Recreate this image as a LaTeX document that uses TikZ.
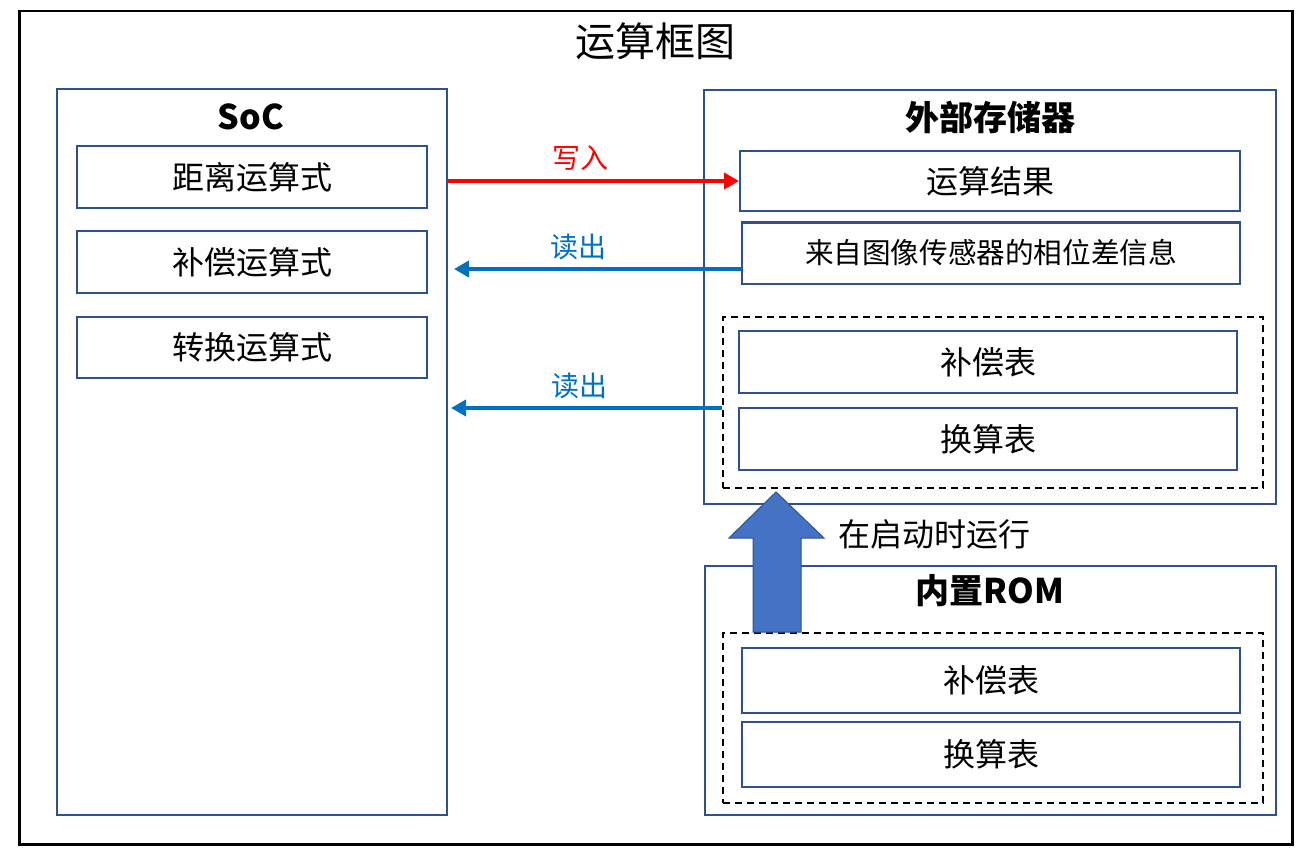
\documentclass[tikz,border=0pt]{standalone}
\usepackage{fontspec}
\setmainfont{Noto Sans CJK SC}
\usetikzlibrary{arrows.meta,calc}
\definecolor{bbord}{HTML}{2F528F}
\definecolor{barrow}{HTML}{0070C0}
\definecolor{bfill}{HTML}{4472C4}
\tikzset{
  box/.style={draw=bbord,line width=2pt,rectangle,inner sep=0pt},
  dbox/.style={draw=black,line width=2pt,dashed,dash pattern=on 7pt off 5pt,rectangle,inner sep=0pt},
  item/.style={font=\fontsize{32}{36}\selectfont},
  head/.style={font=\fontsize{34}{38}\selectfont\bfseries},
  lbl/.style={font=\fontsize{28}{30}\selectfont},
  redarr/.style={draw=red,line width=4pt,-{Triangle[length=15pt,width=16pt]}},
  bluearr/.style={draw=barrow,line width=4pt,-{Triangle[length=15pt,width=16pt]}},
}
\begin{document}
\begin{tikzpicture}[x=1pt,y=-1pt]
\useasboundingbox (0,0) rectangle (1306,853);
\fill[white] (0,0) rectangle (1306,853);
% outer frame
\node[draw=black,line width=2.5pt,minimum width=1273pt,minimum height=833pt,anchor=north west,inner sep=0pt] (frame) at (18,10) {};
\node[font=\fontsize{40}{44}\selectfont] (title) at (655,41) {运算框图};

% SoC
\node[box,minimum width=390pt,minimum height=726pt,anchor=north west] (soc) at (56,88) {};
\node[head] (soct) at (251,117) {SoC};
\node[box,item,minimum width=350pt,minimum height=62pt] (s1) at (252,177) {距离运算式};
\node[box,item,minimum width=350pt,minimum height=62pt] (s2) at (252,262) {补偿运算式};
\node[box,item,minimum width=350pt,minimum height=61pt] (s3) at (252,347) {转换运算式};

% external memory
\node[box,minimum width=572pt,minimum height=414pt,anchor=north west] (ext) at (703,89) {};
\node[head] (extt) at (990,117) {外部存储器};
\node[box,item,minimum width=500pt,minimum height=60pt] (e1) at (990,181) {运算结果};
\node[box,minimum width=498pt,minimum height=61pt,font=\fontsize{28.6}{32}\selectfont] (e2) at (991,253) {来自图像传感器的相位差信息};
\node[dbox,minimum width=540pt,minimum height=171pt,anchor=north west] (ed) at (722,316) {};
\node[box,item,minimum width=498pt,minimum height=62pt] (e3) at (988,362) {补偿表};
\node[box,item,minimum width=498pt,minimum height=62pt] (e4) at (988,439) {换算表};

% ROM
\node[box,minimum width=571pt,minimum height=249pt,anchor=north west] (rom) at (704,565) {};
\node[head] (romt) at (990,591) {内置ROM};
\node[dbox,minimum width=540pt,minimum height=170pt,anchor=north west] (rd) at (722,632) {};
\node[box,item,minimum width=498pt,minimum height=65pt] (r1) at (991,680) {补偿表};
\node[box,item,minimum width=498pt,minimum height=65pt] (r2) at (991,754) {换算表};

% arrows
\draw[redarr] (soc.east |- e1.west) -- node[pos=0.456,above=5pt,lbl,text=red] (lw) {写入} (e1.west);
\coordinate (b1) at ($(e2.west)+(0,16)$);
\draw[bluearr,shorten >=6pt] (b1) -- node[pos=0.556,above=4pt,lbl,text=barrow] (lr1) {读出} (soc.east |- b1);
\coordinate (b2) at (ed.west |- 0,408);
\draw[bluearr,shorten >=3pt] (b2) -- node[pos=0.52,above=4pt,lbl,text=barrow] (lr2) {读出} (soc.east |- b2);

% big block arrow
\coordinate (tip) at (ed.south -| 776,0);
\coordinate (base) at (rd.north -| 776,0);
\fill[bfill,draw=bbord,line width=1pt] ($(tip)+(0,3)$) -- ($(tip)+(48,49)$) -- ($(tip)+(25,49)$) -- ($(base)+(25,0)$) -- ($(base)+(-23,0)$) -- ($(tip)+(-23,49)$) -- ($(tip)+(-47,49)$) -- cycle;
\node[font=\fontsize{32}{36}\selectfont,anchor=west] (run) at (835,534) {在启动时运行};
\end{tikzpicture}
\end{document}
